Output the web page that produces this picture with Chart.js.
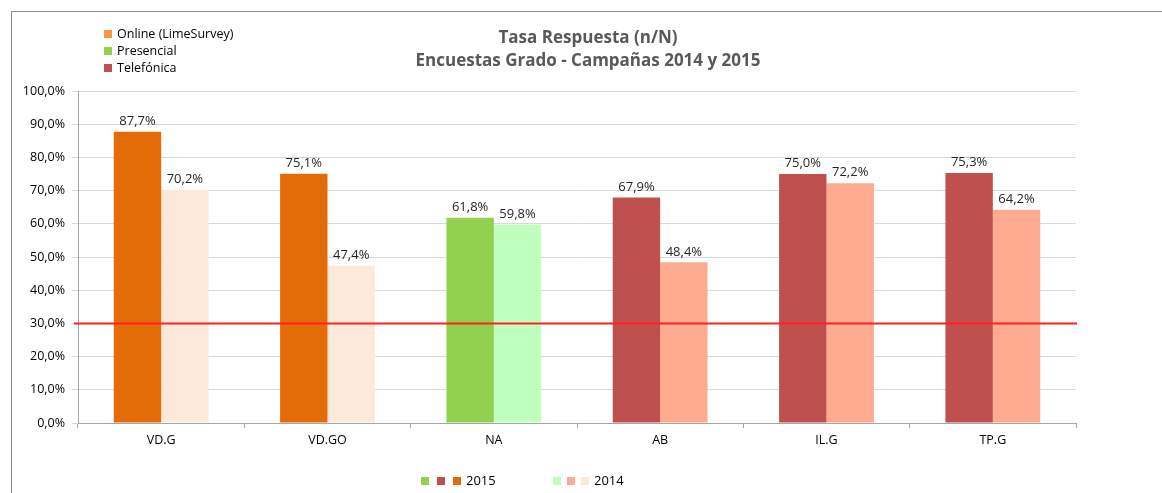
<!DOCTYPE html>
<html>
<head>
<meta charset="utf-8">
<script src="https://cdn.jsdelivr.net/npm/chart.js@4/dist/chart.umd.min.js"></script>
<style>
  html, body { margin: 0; padding: 0; background: #fff; }
  #wrap { position: relative; width: 1162px; height: 493px; overflow: hidden; font-family: "Open Sans", sans-serif; }
  #frame { position: absolute; left: 11px; top: 11px; width: 1200px; height: 600px; border-top: 1px solid #8c8c8c; border-left: 1px solid #8c8c8c; }
  canvas { position: absolute; left: 0; top: 0; }
  #title { position: absolute; left: 338px; width: 500px; top: 25px; text-align: center; font-weight: bold; font-size: 17px; line-height: 23px; color: #595959; }
  .leg { position: absolute; font-size: 12.5px; color: #000; line-height: 17px; }
  .sq { display: inline-block; width: 8px; height: 8px; margin-right: 5px; vertical-align: 0px; }
</style>
</head>
<body>
<div id="wrap">
  <div id="frame"></div>
  <canvas id="chart" width="1162" height="493"></canvas>
  <div id="title">Tasa Respuesta (n/N)<br>Encuestas Grado - Campañas 2014 y 2015</div>
  <div class="leg" style="left:104px; top:25px;">
    <div><span class="sq" style="background:#F79646"></span>Online (LimeSurvey)</div>
    <div><span class="sq" style="background:#92D050"></span>Presencial</div>
    <div><span class="sq" style="background:#C0504D"></span>Telefónica</div>
  </div>
  <div class="leg" style="left:421px; top:472px; font-size:13px;">
    <span class="sq" style="background:#92D050;margin-right:8px"></span><span class="sq" style="background:#C0504D;margin-right:8px"></span><span class="sq" style="background:#E36C09"></span>2015
  </div>
  <div class="leg" style="left:553px; top:472px; font-size:13px;">
    <span class="sq" style="background:#BFFFBF;margin-right:6px"></span><span class="sq" style="background:#FCAB91;margin-right:6px"></span><span class="sq" style="background:#FDE9D9"></span>2014
  </div>
</div>
<script>
const categories = ["VD.G", "VD.GO", "NA", "AB", "IL.G", "TP.G"];
const values2015 = [87.7, 75.1, 61.8, 67.9, 75.0, 75.3];
const values2014 = [70.2, 47.4, 59.8, 48.4, 72.2, 64.2];
const colors2015 = ["#E36C09", "#E36C09", "#92D050", "#C0504D", "#C0504D", "#C0504D"];
const colors2014 = ["#FDE9D9", "#FDE9D9", "#BFFFBF", "#FCAB91", "#FCAB91", "#FCAB91"];
const threshold = 30;

const fmt = v => v.toFixed(1).replace(".", ",") + "%";

const extras = {
  id: "extras",
  afterDatasetsDraw(chart) {
    const c = chart.ctx;
    const y = chart.scales.y;
    const area = chart.chartArea;
    // 30% reference line
    const ty = Math.round(y.getPixelForValue(threshold)) + 0.5;
    c.save();
    c.strokeStyle = "#FF2020";
    c.lineWidth = 2;
    c.beginPath();
    c.moveTo(area.left - 4, ty);
    c.lineTo(area.right + 1, ty);
    c.stroke();
    // value labels
    c.font = "13px 'Open Sans'";
    c.fillStyle = "#262626";
    c.textAlign = "center";
    c.textBaseline = "bottom";
    chart.data.datasets.forEach((ds, i) => {
      chart.getDatasetMeta(i).data.forEach((bar, j) => {
        c.fillText(fmt(ds.data[j]), bar.x, bar.y - 4);
      });
    });
    c.restore();
  }
};

new Chart(document.getElementById("chart"), {
  type: "bar",
  data: {
    labels: categories,
    datasets: [
      { label: "2015", data: values2015, backgroundColor: colors2015, borderWidth: 0 },
      { label: "2014", data: values2014, backgroundColor: colors2014, borderWidth: 0 }
    ]
  },
  options: {
    responsive: false,
    animation: false,
    devicePixelRatio: 1,
    layout: { padding: { top: 91, right: 86, bottom: 40, left: 0 } },
    datasets: { bar: { categoryPercentage: 0.57, barPercentage: 1 } },
    plugins: { legend: { display: false }, title: { display: false }, tooltip: { enabled: false } },
    scales: {
      x: {
        afterFit: s => { s.height = 30; },
        grid: { display: true, drawOnChartArea: false, drawTicks: true, tickLength: 5, offset: true, color: "#A6A6A6" },
        border: { color: "#A6A6A6" },
        ticks: { color: "#000", font: { family: "Open Sans", size: 12.5 }, padding: 5 }
      },
      y: {
        min: 0, max: 100,
        afterFit: s => { s.width = 78; },
        grid: { color: "#D9D9D9", tickLength: 6, lineWidth: 1 },
        border: { color: "#A6A6A6" },
        ticks: { stepSize: 10, color: "#000", font: { family: "Open Sans", size: 12.5 }, padding: 7, callback: v => fmt(v) }
      }
    }
  },
  plugins: [extras]
});
</script>
</body>
</html>
